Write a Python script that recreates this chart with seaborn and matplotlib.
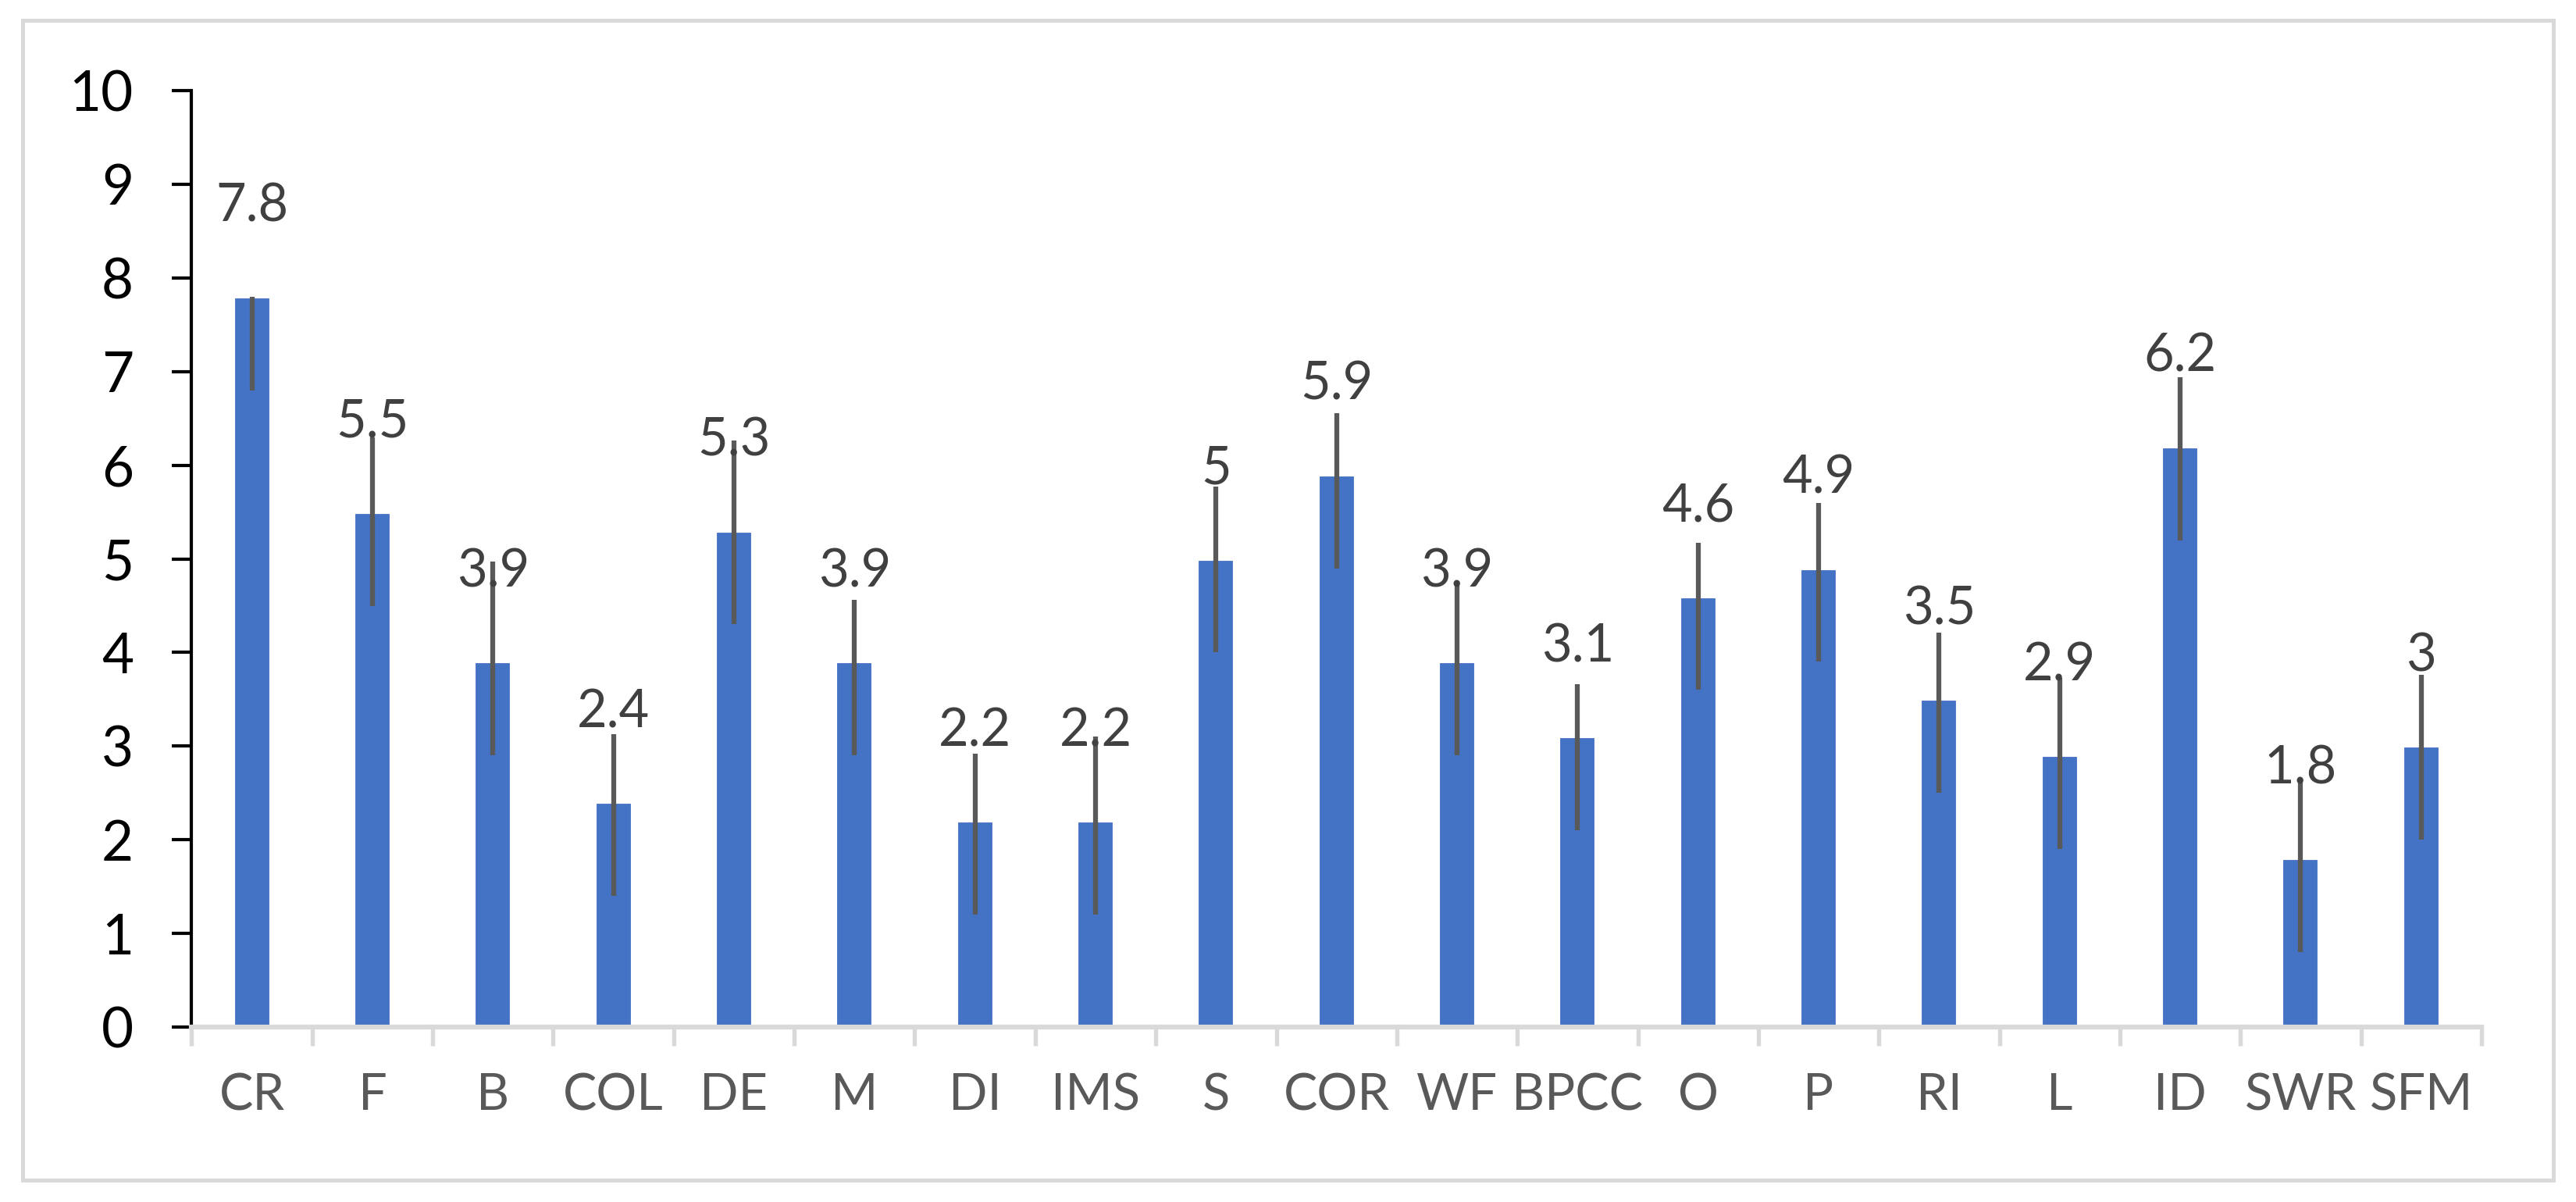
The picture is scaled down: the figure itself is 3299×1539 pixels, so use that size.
import numpy as np
import pandas as pd
import matplotlib
matplotlib.use("Agg")
import matplotlib.pyplot as plt
from matplotlib.patches import Rectangle
import seaborn as sns

# values
categories = ["CR", "F", "B", "COL", "DE", "M", "DI", "IMS", "S", "COR",
              "WF", "BPCC", "O", "P", "RI", "L", "ID", "SWR", "SFM"]
scores = [7.8, 5.5, 3.9, 2.4, 5.3, 3.9, 2.2, 2.2, 5.0, 5.9,
          3.9, 3.1, 4.6, 4.9, 3.5, 2.9, 6.2, 1.8, 3.0]
err_minus = [1.0, 1.0, 1.0, 1.0, 1.0, 1.0, 1.0, 1.0, 1.0, 1.0,
             1.0, 1.0, 1.0, 1.0, 1.0, 1.0, 1.0, 1.0, 1.0]
err_plus = [0.0, 0.8, 1.07, 0.73, 0.96, 0.66, 0.72, 0.9, 0.77, 0.66,
            0.86, 0.56, 0.57, 0.7, 0.71, 0.83, 0.74, 0.81, 0.76]
yticks = [0, 1, 2, 3, 4, 5, 6, 7, 8, 9, 10]

df = pd.DataFrame({"cat": categories, "score": scores})

sns.set_style("white")
plt.rcParams["font.family"] = ["Lato", "DejaVu Sans"]

fig = plt.figure(figsize=(3299 / 300, 1539 / 300), dpi=300)
ax = fig.add_axes([0.0744, 0.1455, 0.9633 - 0.0744, 0.9246 - 0.1455])

sns.barplot(data=df, x="cat", y="score", color="#4472C4", saturation=1,
            width=0.31, errorbar=None, ax=ax)

x = np.arange(len(categories))
ax.errorbar(x, scores, yerr=[err_minus, err_plus], fmt="none",
            ecolor="#595959", elinewidth=1.5, capsize=0)

for i, v in enumerate(scores):
    ax.text(i, v + 0.96, f"{v:g}", ha="center", va="center",
            fontsize=16, color="#404040")

ax.set_xlim(-0.5, len(categories) - 0.5)
ax.set_ylim(0, 10)
ax.set_yticks(yticks)
ax.set_yticklabels([str(t) for t in yticks])
ax.set_xlabel("")
ax.set_ylabel("")

sns.despine(ax=ax, top=True, right=True)
ax.spines["left"].set_color("black")
ax.spines["left"].set_linewidth(1.0)
ax.spines["bottom"].set_color("#d9d9d9")
ax.spines["bottom"].set_linewidth(1.5)

ax.tick_params(axis="y", length=5.9, width=1.0, color="black", pad=12,
               labelsize=17, labelcolor="black", left=True)
ax.tick_params(axis="x", which="major", length=0, pad=14,
               labelsize=15.6, labelcolor="#595959")
ax.set_xticks(np.arange(-0.5, len(categories), 1), minor=True)
ax.tick_params(axis="x", which="minor", length=5.8, width=1.3,
               color="#d9d9d9", bottom=True)

fig.patches.append(Rectangle((29.5 / 3299, 1 - 1511 / 1539),
                             (3270 - 29.5) / 3299, (1511 - 25.5) / 1539,
                             transform=fig.transFigure, fill=False,
                             ec="#d9d9d9", lw=1.2))

fig.savefig("out.png", dpi=300, facecolor="white")
